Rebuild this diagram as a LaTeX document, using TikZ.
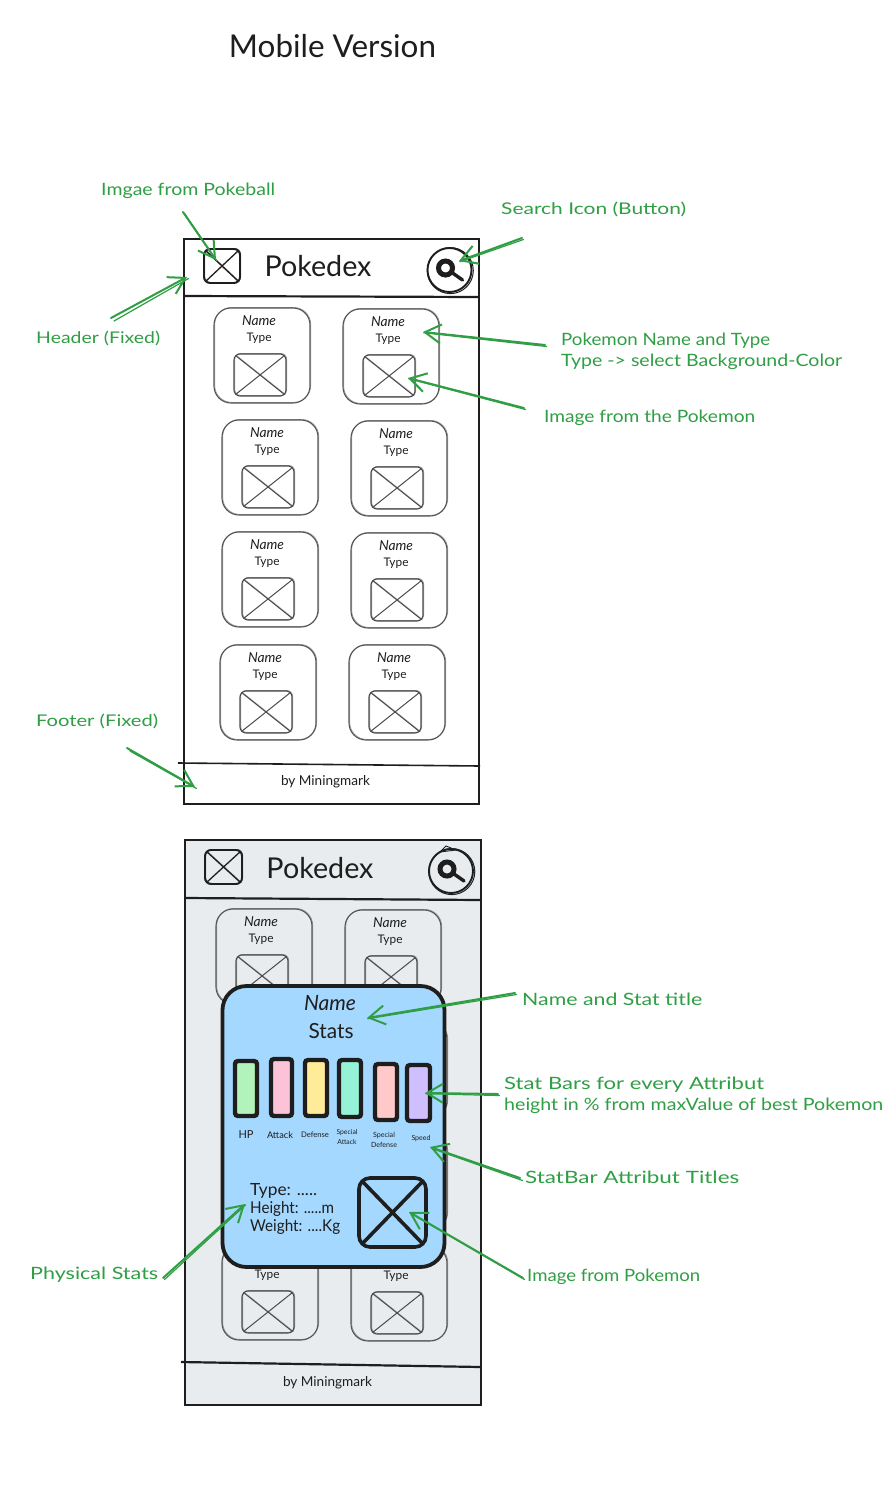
\documentclass[tikz,border=0pt]{standalone}
\usepackage{fontspec}
\usepackage{graphicx}
\setmainfont{Lato}
\usetikzlibrary{arrows.meta}
\definecolor{ink}{HTML}{1E1E1E}
\definecolor{note}{HTML}{2F9E44}
\definecolor{screenbg}{HTML}{E9ECEF}
\definecolor{panelbg}{HTML}{A5D8FF}
\tikzset{
  x=1pt,y=-1pt,
  frame/.style={draw=ink,line width=1.6pt},
  card/.style={draw=ink!75,line width=1.1pt,rounded corners=17pt},
  thumb/.style={draw=ink!80,line width=1.1pt,rounded corners=6pt},
  icon/.style={draw=ink,line width=1.9pt,rounded corners=6pt},
  bar/.style={draw=ink,line width=4.4pt,rounded corners=3pt},
  cross/.style={draw=ink!80,line width=1pt},
  noteline/.style={draw=note,line width=2pt,line cap=round,-{Straight Barb[length=16pt,width=19pt,line width=2pt]}},
  noteback/.style={draw=note,line width=1.2pt,line cap=round},
  txt/.style={text=ink,inner sep=0pt},
  lab/.style={text=note,inner sep=0pt,anchor=west},
}
\newcommand{\fitw}[2]{\resizebox{#1pt}{!}{#2}}
% green note text: given width, common letter height
\newcommand{\fitn}[2]{\resizebox{#1pt}{12.5pt}{#2}}
% \skbox[style]{name}{x1}{y1}{x2}{y2}
\newcommand{\skbox}[6][]{%
  \pgfmathsetmacro\skw{#5-#3}\pgfmathsetmacro\skh{#6-#4}%
  \pgfmathsetmacro\skxb{#3+.7}\pgfmathsetmacro\skyb{#4-.6}%
  \node[#1,minimum width=\skw pt,minimum height=\skh pt,inner sep=0pt,outer sep=0pt,anchor=north west] (#2) at (#3,#4) {};
  \node[#1,fill=none,opacity=.55,line width=.8pt,minimum width=\skw pt,minimum height=\skh pt,inner sep=0pt,outer sep=0pt,anchor=north west] (#2-b) at (\skxb,\skyb) {};
}
% \crossin{style}{name}{inset}
\newcommand{\crossin}[3]{%
  \draw[#1] ([shift={(#3,#3)}]#2.north west) -- ([shift={(-#3,-#3)}]#2.south east);
  \draw[#1] ([shift={(-#3,#3)}]#2.north east) -- ([shift={(#3,-#3)}]#2.south west);
  \draw[#1,opacity=.5,line width=.7pt] ([shift={(#3+1,#3)}]#2.north west) -- ([shift={(-#3+1,-#3)}]#2.south east);
}
% \pokecard{id}{x}{y}
\newcommand{\pokecard}[3]{%
  \pgfmathsetmacro\cxa{#2+96}\pgfmathsetmacro\cya{#3+95}%
  \skbox[card]{#1}{#2}{#3}{\cxa}{\cya}
  \pgfmathsetmacro\tx{#2+20}\pgfmathsetmacro\ty{#3+46}\pgfmathsetmacro\txb{#2+72}\pgfmathsetmacro\tyb{#3+88}%
  \skbox[thumb]{#1-img}{\tx}{\ty}{\txb}{\tyb}
  \crossin{cross}{#1-img}{1.5}
  \pgfmathsetmacro\nx{#2+45}\pgfmathsetmacro\ny{#3+13}\pgfmathsetmacro\tny{#3+30}%
  \node[txt] (#1-name) at (\nx,\ny) {\fitw{34}{\itshape Name}};
  \node[txt] (#1-type) at (\nx,\tny) {\fitw{25}{Type}};
}
% \searchicon{id}{cx}{cy}
\newcommand{\searchicon}[3]{%
  \node[draw=ink,line width=1.9pt,circle,minimum size=44pt,inner sep=0pt,outer sep=0pt] (#1) at (#2,#3) {};
  \node[draw=ink,line width=1pt,circle,minimum size=46pt,inner sep=0pt,outer sep=0pt] (#1-b) at ([shift={(.8,.6)}]#1.center) {};
  \node[draw=ink,line width=5pt,circle,minimum size=14pt,inner sep=0pt,outer sep=0pt] (#1-lens) at ([shift={(-4,-2)}]#1.center) {};
  \coordinate (#1-hnd) at ([shift={(13,10)}]#1.center);
  \draw[ink,line width=3.4pt,line cap=round] (#1-lens) -- (#1-hnd);
}
% \notearrow[offset]{id}{x1}{y1}{x2}{y2}
\newcommand{\notearrow}[6][1.5]{%
  \coordinate (#2-s) at (#3,#4);
  \coordinate (#2-e) at (#5,#6);
  \draw[noteline] (#2-s) -- (#2-e);
  \draw[noteback] ([shift={(#1,#1)}]#2-s) -- ([shift={(0.5*#1,0.5*#1)}]#2-e);
}
\begin{document}
\begin{tikzpicture}
\useasboundingbox (0,0) rectangle (889,1491);
\fill[white] (0,0) rectangle (889,1491);

\node[txt] (title) at (332.5,46) {\fitw{207}{\LARGE Mobile Version}};

%% ---------- Screen 1
\skbox[frame]{s1}{184}{239}{479}{804}
\coordinate (s1h-l) at (184,296); \coordinate (s1h-r) at (479,297);
\draw[frame,line width=2.2pt] (s1h-l) -- (s1h-r);
\coordinate (s1f-l) at (178,763); \coordinate (s1f-r) at (480,766);
\draw[frame] (s1f-l) -- (s1f-r);
\skbox[icon]{s1logo}{204}{249}{240}{283}
\crossin{draw=ink,line width=1.3pt}{s1logo}{1.5}
\node[txt] (s1title) at (318,266) {\fitw{107}{\Large Pokedex}};
\searchicon{s1search}{449.5}{270}
\pokecard{a1}{214}{308}
\pokecard{a2}{343}{309}
\pokecard{a3}{222}{420}
\pokecard{a4}{351}{421}
\pokecard{a5}{222}{532}
\pokecard{a6}{351}{533}
\pokecard{a7}{220}{645}
\pokecard{a8}{349}{645}
\node[txt] (s1foot) at (325.5,782) {\fitw{89}{by Miningmark}};

%% ---------- Screen 2
\skbox[frame,fill=screenbg]{s2}{185}{840}{481}{1405}
\coordinate (s2h-l) at (185,898); \coordinate (s2h-r) at (481,900);
\draw[frame,line width=2.2pt] (s2h-l) -- (s2h-r);
\coordinate (s2f-l) at (181,1362); \coordinate (s2f-r) at (481,1367);
\draw[frame,line width=2.2pt] (s2f-l) -- (s2f-r);
\skbox[icon]{s2logo}{205}{850}{242}{884}
\crossin{draw=ink,line width=1.3pt}{s2logo}{1.5}
\node[txt] (s2title) at (320,868) {\fitw{107}{\Large Pokedex}};
\searchicon{s2search}{451}{871}
\coordinate (s2sc-a) at (440,852); \coordinate (s2sc-b) at (446,846); \coordinate (s2sc-c) at (456,850);
\draw[ink,line width=.9pt] (s2sc-a) -- (s2sc-b) -- (s2sc-c) -- cycle;
\pokecard{b1}{216}{909}
\pokecard{b2}{345}{910}
\skbox[card]{b3}{351}{1022}{447}{1118}
\skbox[card]{b4}{351}{1134}{447}{1230}
\pokecard{b5}{222}{1245}
\pokecard{b6}{351}{1246}
\node[txt] (s2foot) at (327.5,1383) {\fitw{89}{by Miningmark}};

%% ---------- Stats panel
\node[draw=ink,fill=panelbg,line width=3.8pt,rounded corners=24pt,minimum width=222pt,minimum height=281pt,inner sep=0pt,outer sep=0pt,anchor=north west] (panel) at (222.5,986) {};
\node[txt] (pname) at (330,1003) {\fitw{52}{\itshape\Large Name}};
\node[txt] (pstats) at (331,1031) {\fitw{45}{Stats}};

\skbox[bar,fill={rgb,255:red,178;green,242;blue,187}]{bar1}{235}{1061}{257}{1116}
\skbox[bar,fill={rgb,255:red,252;green,194;blue,215}]{bar2}{271}{1059}{292}{1116}
\skbox[bar,fill={rgb,255:red,255;green,236;blue,153}]{bar3}{305}{1060}{327}{1116}
\skbox[bar,fill={rgb,255:red,150;green,242;blue,215}]{bar4}{339}{1060}{361}{1117}
\skbox[bar,fill={rgb,255:red,255;green,201;blue,201}]{bar5}{375}{1064}{397}{1120}
\skbox[bar,fill={rgb,255:red,208;green,191;blue,255}]{bar6}{407}{1065}{430}{1121}

\node[txt] (lhp) at (246,1135) {\fitw{15}{HP}};
\node[txt] (latt) at (280,1135) {\fitw{26}{Attack}};
\node[txt] (ldef) at (315,1135) {\fitw{28}{Defense}};
\node[txt,align=center,font=\tiny] (lsa) at (347,1137) {\resizebox{21pt}{!}{\shortstack{Special\\Attack}}};
\node[txt,align=center,font=\tiny] (lsd) at (384,1140) {\resizebox{26pt}{!}{\shortstack{Special\\Defense}}};
\node[txt] (lspd) at (421,1139) {\fitw{19}{Speed}};

\node[txt,anchor=west] (ptype) at (250,1191) {\resizebox{67pt}{12pt}{Type: .....}};
\node[txt,anchor=west] (pheight) at (250,1209) {\resizebox{84pt}{12pt}{Height: .....m}};
\node[txt,anchor=west] (pweight) at (250,1227) {\resizebox{90pt}{12pt}{Weight: ....Kg}};

\skbox[draw=ink,line width=3.6pt,rounded corners=11pt]{pimg}{359}{1178}{426}{1247}
\crossin{draw=ink,line width=3.6pt}{pimg}{3}

%% ---------- Notes
\node[lab] (n1) at (101,191) {\fitn{174}{Imgae from Pokeball}};
\node[lab] (n2) at (501,209) {\fitn{185}{Search Icon (Button)}};
\node[lab] (n3) at (36,338) {\fitn{124}{Header (Fixed)}};
\node[lab] (n4) at (561,341) {\fitn{209}{Pokemon Name and Type}};
\node[lab] (n5) at (561,362) {\fitn{281}{Type -> select Background-Color}};
\node[lab] (n6) at (544,418) {\fitn{211}{Image from the Pokemon}};
\node[lab] (n7) at (36,721) {\fitn{122}{Footer (Fixed)}};
\node[lab] (n8) at (522,999) {\fitn{180}{Name and Stat title}};
\node[lab] (n9) at (504,1085) {\fitn{260}{Stat Bars for every Attribut}};
\node[lab] (n10) at (504,1106) {\fitn{379}{height in \% from maxValue of best Pokemon}};
\node[lab] (n11) at (525,1177) {\fitn{214}{StatBar Attribut Titles}};
\node[lab] (n12) at (30,1275) {\fitn{128}{Physical Stats}};
\node[lab] (n13) at (527,1277) {\fitn{173}{Image from Pokemon}};

\notearrow{k1}{183}{212}{216}{260}
\notearrow{k2}{522}{238}{459}{261}
\notearrow[3]{k3}{111}{318}{187}{277}
\notearrow[3]{k4}{127}{748}{195}{787}
\notearrow{k5}{545}{345}{423}{332}
\notearrow{k6}{524}{408}{408}{378}
\notearrow{k7}{515}{993}{367}{1018}
\notearrow{k8}{498}{1094}{425}{1093}
\notearrow[2.5]{k9}{520}{1178}{430}{1147}
\notearrow{k10}{163}{1278}{245}{1204}
\notearrow{k11}{523}{1278}{409}{1212}
\end{tikzpicture}
\end{document}
